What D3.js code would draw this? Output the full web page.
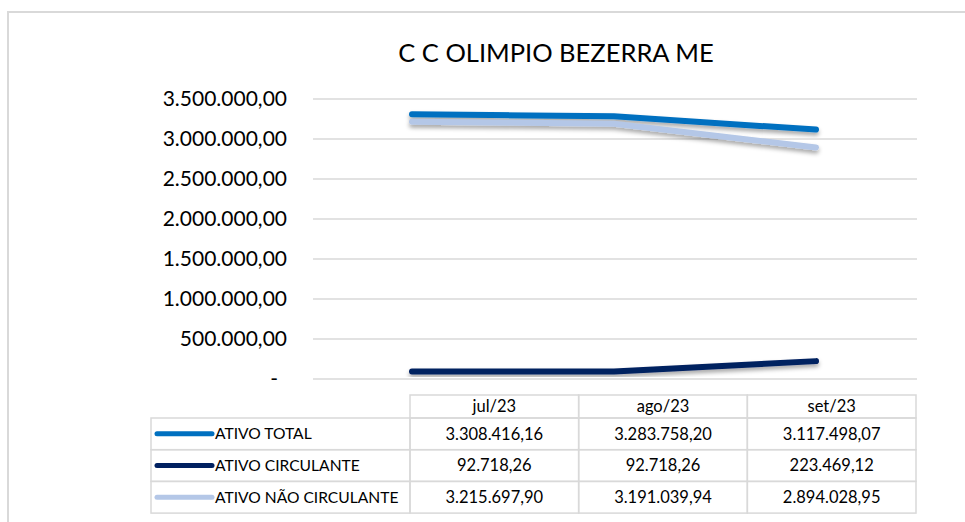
<!DOCTYPE html>
<html>
<head>
<meta charset="utf-8">
<script src="https://cdn.jsdelivr.net/npm/d3@7"></script>
<style>
  body { margin: 0; background: #fff; }
  svg { font-family: Lato, "Open Sans", sans-serif; }
</style>
</head>
<body>
<svg width="965" height="522"></svg>
<script>
const months = ["jul/23", "ago/23", "set/23"];
const seriesNames = ["ATIVO TOTAL", "ATIVO CIRCULANTE", "ATIVO NÃO CIRCULANTE"];
const ativoTotal = [3308416.16, 3283758.20, 3117498.07];
const ativoCirculante = [92718.26, 92718.26, 223469.12];
const ativoNaoCirculante = [3215697.90, 3191039.94, 2894028.95];
const yTicks = [0, 500000, 1000000, 1500000, 2000000, 2500000, 3000000, 3500000];

const seriesColors = ["#0070c0", "#002060", "#b4c7e7"];
const seriesValues = [ativoTotal, ativoCirculante, ativoNaoCirculante];

const svg = d3.select("svg");

// drop shadow like the Excel line effect
const defs = svg.append("defs");
defs.append("filter")
    .attr("id", "shadow")
    .attr("x", "-10%").attr("y", "-50%")
    .attr("width", "120%").attr("height", "200%")
  .append("feDropShadow")
    .attr("dx", 0)
    .attr("dy", 3)
    .attr("stdDeviation", 2)
    .attr("flood-color", "#000")
    .attr("flood-opacity", 0.35);

// chart frame
svg.append("rect")
    .attr("x", 8)
    .attr("y", 12)
    .attr("width", 1000)
    .attr("height", 600)
    .attr("fill", "none")
    .attr("stroke", "#d9d9d9")
    .attr("stroke-width", 2);

svg.append("text")
    .attr("x", 556)
    .attr("y", 62)
    .attr("text-anchor", "middle")
    .attr("font-size", "25.5px")
    .attr("fill", "#000")
    .text("C C OLIMPIO BEZERRA ME");

const x = d3.scaleBand()
    .domain(months)
    .range([311, 917]);

const y = d3.scaleLinear()
    .domain([0, 3500000])
    .range([379, 99]);

const fmt = d3.formatLocale({ decimal: ",", thousands: ".", grouping: [3], currency: ["", ""] }).format(",.2f");

// gridlines
svg.append("g")
    .selectAll("line")
    .data(yTicks)
    .enter()
    .append("line")
    .attr("x1", 313)
    .attr("x2", 917)
    .attr("y1", d => y(d))
    .attr("y2", d => y(d))
    .attr("stroke", "#d9d9d9")
    .attr("stroke-width", 1.5);

// y labels
svg.append("g")
    .selectAll("text")
    .data(yTicks)
    .enter()
    .append("text")
    .attr("x", d => d === 0 ? 278 : 287)
    .attr("y", d => y(d))
    .attr("dy", "0.35em")
    .attr("text-anchor", "end")
    .attr("font-size", "21px")
    .attr("fill", "#000")
    .text(d => d === 0 ? "-" : fmt(d));

const line = d3.line()
    .x((d, i) => x(months[i]) + x.bandwidth() / 2)
    .y(d => y(d));

svg.append("g")
    .selectAll("path")
    .data(seriesValues)
    .enter()
    .append("path")
    .attr("d", line)
    .attr("fill", "none")
    .attr("stroke", (d, i) => seriesColors[i])
    .attr("stroke-width", 6)
    .attr("stroke-linecap", "round")
    .attr("stroke-linejoin", "round")
    .attr("filter", "url(#shadow)");

// data table
const col = d3.scaleBand()
    .domain(months)
    .range([410, 916]);

const headerTop = 395, headerBottom = 418, rowH = 31.7;
const tableLeft = 151;
const border = "#d9d9d9";
const table = svg.append("g");

// header cells
table.selectAll(".hcell")
    .data(months)
    .enter()
    .append("rect")
    .attr("x", d => col(d))
    .attr("y", headerTop)
    .attr("width", col.bandwidth())
    .attr("height", headerBottom - headerTop)
    .attr("fill", "none")
    .attr("stroke", border)
    .attr("stroke-width", 1.5);

table.selectAll(".htext")
    .data(months)
    .enter()
    .append("text")
    .attr("x", d => col(d) + col.bandwidth() / 2)
    .attr("y", (headerTop + headerBottom) / 2)
    .attr("dy", "0.35em")
    .attr("text-anchor", "middle")
    .attr("font-size", "16.5px")
    .text(d => d);

const rows = table.selectAll(".row")
    .data(seriesNames)
    .enter()
    .append("g")
    .attr("transform", (d, i) => `translate(0, ${headerBottom + i * rowH})`);

rows.append("rect")
    .attr("x", tableLeft)
    .attr("y", 0)
    .attr("width", 410 - tableLeft)
    .attr("height", rowH)
    .attr("fill", "none")
    .attr("stroke", border)
    .attr("stroke-width", 1.5);

rows.append("line")
    .attr("x1", 157)
    .attr("x2", 212)
    .attr("y1", rowH / 2)
    .attr("y2", rowH / 2)
    .attr("stroke", (d, i) => seriesColors[i])
    .attr("stroke-width", 5)
    .attr("stroke-linecap", "round");

rows.append("text")
    .attr("x", 215)
    .attr("y", rowH / 2)
    .attr("dy", "0.35em")
    .attr("font-size", "15.6px")
    .text(d => d);

rows.each(function(name, i) {
    const r = d3.select(this);
    r.selectAll(".cell")
        .data(months)
        .enter()
        .append("rect")
        .attr("x", m => col(m))
        .attr("y", 0)
        .attr("width", col.bandwidth())
        .attr("height", rowH)
        .attr("fill", "none")
        .attr("stroke", border)
        .attr("stroke-width", 1.5);
    r.selectAll(".val")
        .data(seriesValues[i])
        .enter()
        .append("text")
        .attr("x", (v, j) => col(months[j]) + col.bandwidth() / 2)
        .attr("y", rowH / 2)
        .attr("dy", "0.35em")
        .attr("text-anchor", "middle")
        .attr("font-size", "16.5px")
        .text(v => fmt(v));
});
</script>
</body>
</html>
